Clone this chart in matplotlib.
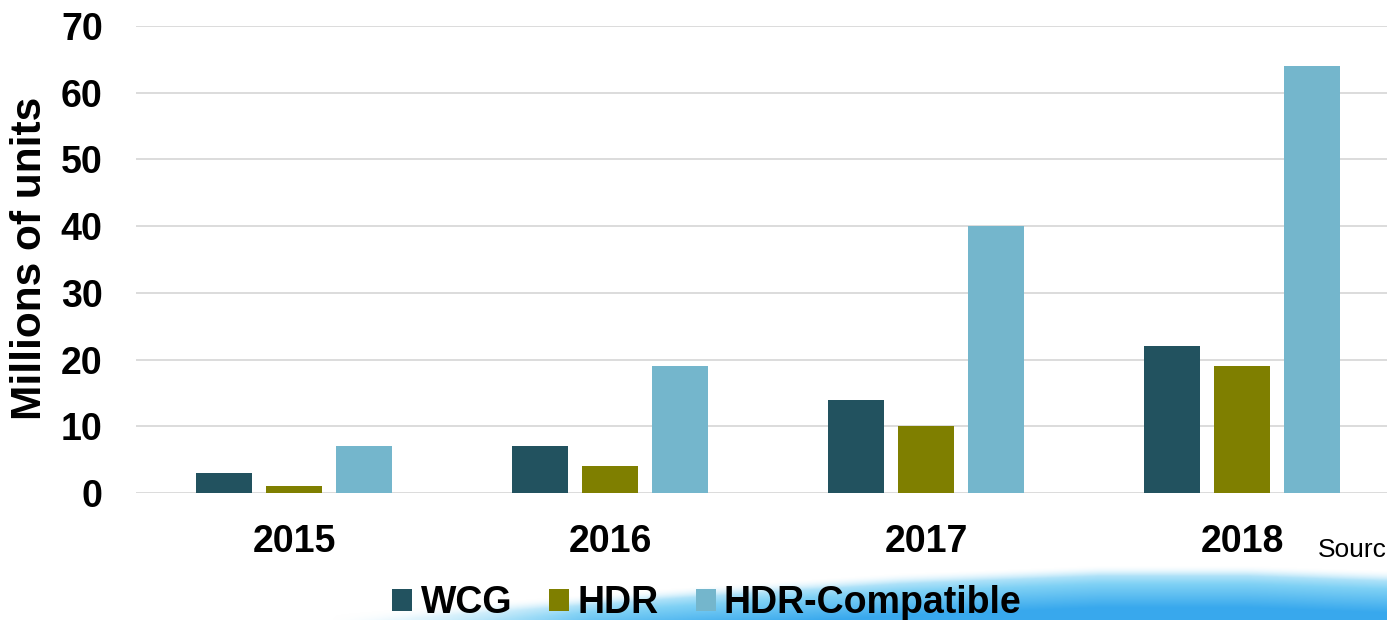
import numpy as np
import matplotlib
matplotlib.use("Agg")
import matplotlib.pyplot as plt
from matplotlib.path import Path
from matplotlib.patches import PathPatch

years = ["2015", "2016", "2017", "2018"]
series_names = ["WCG", "HDR", "HDR-Compatible"]
wcg = [3, 7, 14, 22]
hdr = [1, 4, 10, 19]
hdr_compatible = [7, 19, 40, 64]
y_ticks = [0, 10, 20, 30, 40, 50, 60, 70]
y_label = "Millions of units"
source_text = "Sourc"

colors = ["#22525f", "#7f7f00", "#74b6cc"]

plt.rcParams['font.family'] = ['Liberation Sans', 'DejaVu Sans']

W, H = 1387, 620
fig = plt.figure(figsize=(W / 100, H / 100), dpi=100)

# decorative background swoosh
bg = fig.add_axes([0, 0, 1, 1], zorder=0)
bg.set_xlim(0, W)
bg.set_ylim(H, 0)
bg.axis("off")
edge_x = np.array([340, 500, 700, 900, 1100, 1250, 1387])
edge_y = np.array([620, 608, 593, 580, 572, 572, 577])
ny, nx = 90, 300
ys = np.linspace(540, H, ny)
xs = np.linspace(0, W, nx)
edge = np.interp(xs, edge_x, edge_y)
t = np.clip((ys[:, None] - edge[None, :] + 4) / 40, 0, 1)
top = np.array([0.86, 0.95, 0.99])
mid = np.array([0.50, 0.82, 0.96])
bot = np.array([0.22, 0.66, 0.93])
t3 = t[..., None]
img = np.where(t3 < 0.4, top + (mid - top) * (t3 / 0.4), mid + (bot - mid) * ((t3 - 0.4) / 0.6))
soft = np.clip((ys[:, None] - edge[None, :] + 6) / 10, 0, 1)
fade = np.clip((xs[None, :] - 330) / 260, 0, 1)
alpha = soft * fade
rgba = np.dstack([img, alpha])
bg.imshow(rgba, extent=[0, W, H, 540], aspect="auto", zorder=0, interpolation="bilinear")

ax = fig.add_axes([136 / W, 127 / H, 1264 / W, 467 / H], zorder=1)
ax.patch.set_alpha(0)

x = np.arange(len(years))
bw = 56 / 316
step = 70 / 316
data = [wcg, hdr, hdr_compatible]
for i, (name, vals) in enumerate(zip(series_names, data)):
    ax.bar(x + (i - 1) * step, vals, width=bw, color=colors[i], label=name, zorder=2)

ax.set_xlim(-0.5, len(years) - 0.5)
ax.set_ylim(0, 70)
ax.set_yticks(y_ticks)
ax.set_xticks(x)
ax.set_xticklabels(years)
ax.yaxis.grid(True, color="#d9d9d9", linewidth=1.3, zorder=0)
ax.set_axisbelow(True)
for s in ax.spines.values():
    s.set_visible(False)
ax.tick_params(axis="both", length=0, labelsize=27)
ax.tick_params(axis="y", pad=24)
ax.tick_params(axis="x", pad=22)
for lbl in ax.get_xticklabels() + ax.get_yticklabels():
    lbl.set_fontweight("bold")

fig.text(30 / W, 1 - 258 / H, y_label, rotation=90, ha="center", va="center",
         fontsize=30.5, fontweight="bold")
fig.text(1318 / W, 1 - 557 / H, source_text, ha="left", va="baseline", fontsize=19)

leg = fig.legend(loc="center", bbox_to_anchor=(707 / W, 1 - 603 / H), ncol=3,
                 frameon=False, prop={"size": 27, "weight": "bold"},
                 handlelength=0.53, handleheight=0.53, handletextpad=0.22,
                 columnspacing=0.99, borderpad=0, borderaxespad=0)

fig.savefig("out.png", dpi=100)
